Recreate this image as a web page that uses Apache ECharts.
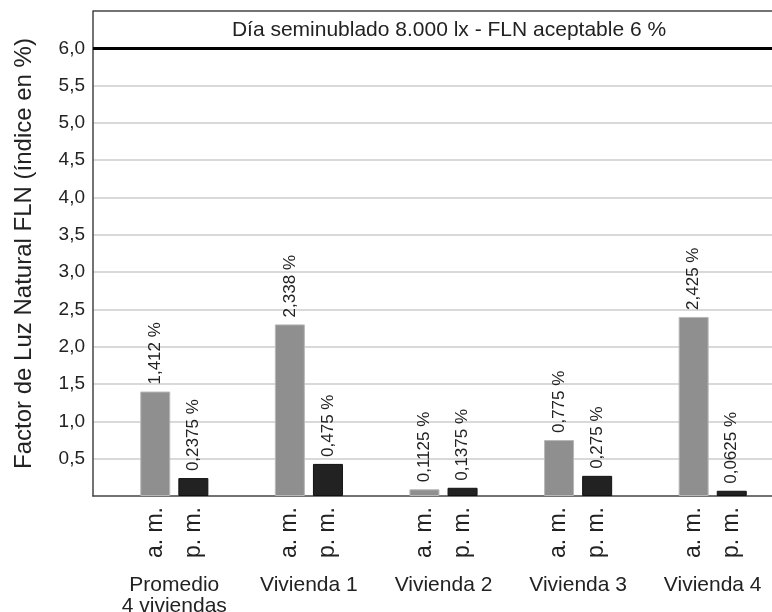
<!DOCTYPE html>
<html>
<head>
<meta charset="utf-8">
<script src="https://cdn.jsdelivr.net/npm/echarts@6/dist/echarts.min.js"></script>
<style>html,body{margin:0;padding:0;background:#fff;}#c{width:772px;height:612px;}</style>
</head>
<body>
<div id="c"></div>
<script>
const categories = ['Promedio\n4 viviendas', 'Vivienda 1', 'Vivienda 2', 'Vivienda 3', 'Vivienda 4'];
const periodLabels = ['a. m.', 'p. m.'];
const amValues = [1.40, 2.30, 0.09, 0.75, 2.40];
const pmValues = [0.24, 0.43, 0.11, 0.27, 0.07];
const amLabels = ['1,412 %', '2,338 %', '0,1125 %', '0,775 %', '2,425 %'];
const pmLabels = ['0,2375 %', '0,475 %', '0,1375 %', '0,275 %', '0,0625 %'];
const acceptable = 6;
const yMax = 6.5;
const titleText = 'Día seminublado 8.000 lx - FLN aceptable 6 %';
const yName = 'Factor de Luz Natural FLN (índice en %)';

const FONT = "'Liberation Sans', Arial, sans-serif";
const TXT = '#222';
const chart = echarts.init(document.getElementById('c'), null, {renderer: 'canvas'});

const fmt = v => (v <= 0 || v > 6.01) ? '' : v.toFixed(1).replace('.', ',');

chart.setOption({
  animation: false,
  textStyle: {fontFamily: FONT, color: TXT},
  graphic: [{
    type: 'text', x: 449, y: 30, z: 10,
    style: {text: titleText, fontFamily: FONT, fontSize: 21, fill: TXT, align: 'center', verticalAlign: 'middle'}
  }],
  grid: [
    {left: 93, right: -30, top: 11, bottom: 116, outerBoundsMode: 'none', containLabel: false, show: false},
    {left: 107, right: -8, top: 11, bottom: 116, outerBoundsMode: 'none', containLabel: false}
  ],
  xAxis: [
    {type: 'value', gridIndex: 0, min: 0, max: 1, axisLabel: {show: false}, axisTick: {show: false}, splitLine: {show: false},
     axisLine: {show: true, lineStyle: {color: '#444', width: 1.5}}},
    {type: 'category', gridIndex: 1, data: categories, axisLine: {show: false}, axisTick: {show: false},
     axisLabel: {margin: 79, fontSize: 21, lineHeight: 21, color: TXT, fontFamily: FONT, interval: 0}}
  ],
  yAxis: [
    {type: 'value', gridIndex: 0, min: 0, max: yMax, interval: 0.5,
     name: yName, nameLocation: 'middle', nameGap: 57,
     nameTextStyle: {fontSize: 24, color: TXT, fontFamily: FONT},
     axisLine: {show: true, lineStyle: {color: '#444', width: 1.5}}, axisTick: {show: false},
     axisLabel: {formatter: fmt, fontSize: 19, color: TXT, margin: 8, fontFamily: FONT},
     splitLine: {show: true, showMinLine: false, showMaxLine: false, lineStyle: {color: '#cccccc', width: 1.5}}},
    {type: 'value', gridIndex: 1, min: 0, max: yMax, interval: 0.5, show: false, splitLine: {show: false}}
  ],
  series: [
    {type: 'line', xAxisIndex: 0, yAxisIndex: 0, data: [], silent: true,
     markLine: {silent: true, symbol: 'none', label: {show: false},
                data: [
                  {yAxis: acceptable, lineStyle: {color: '#000', width: 3, type: 'solid'}},
                  {yAxis: yMax, lineStyle: {color: '#444', width: 1.5, type: 'solid'}}
                ]}},
    {type: 'bar', name: periodLabels[0], xAxisIndex: 1, yAxisIndex: 1, data: amValues,
     barWidth: 30, barGap: '27%',
     itemStyle: {color: '#8f8f8f', borderColor: '#b8b8b8', borderWidth: 1},
     label: {show: true, position: 'top', rotate: 90, align: 'left', verticalAlign: 'middle', distance: 7,
             fontSize: 17, color: TXT, fontFamily: FONT, formatter: p => amLabels[p.dataIndex]}},
    {type: 'bar', name: periodLabels[1], xAxisIndex: 1, yAxisIndex: 1, data: pmValues,
     barWidth: 30, barGap: '27%',
     itemStyle: {color: '#222', borderColor: '#111', borderWidth: 1},
     label: {show: true, position: 'top', rotate: 90, align: 'left', verticalAlign: 'middle', distance: 7,
             fontSize: 17, color: TXT, fontFamily: FONT, formatter: p => pmLabels[p.dataIndex]}},
    {type: 'custom', xAxisIndex: 1, yAxisIndex: 1, clip: false, silent: true,
     data: categories.map((c, i) => [i, 0]),
     encode: {x: 0, y: 1},
     renderItem: (params, api) => {
       const p = api.coord([api.value(0), 0]);
       return {type: 'group', children: periodLabels.map((t, k) => ({
         type: 'text', x: p[0] + (k === 0 ? -19 : 19), y: p[1] + 11, rotation: Math.PI / 2,
         style: {text: t, fontSize: 23, fontFamily: FONT, fill: TXT, align: 'right', verticalAlign: 'middle'}
       }))};
     }}
  ]
});
</script>
</body>
</html>
